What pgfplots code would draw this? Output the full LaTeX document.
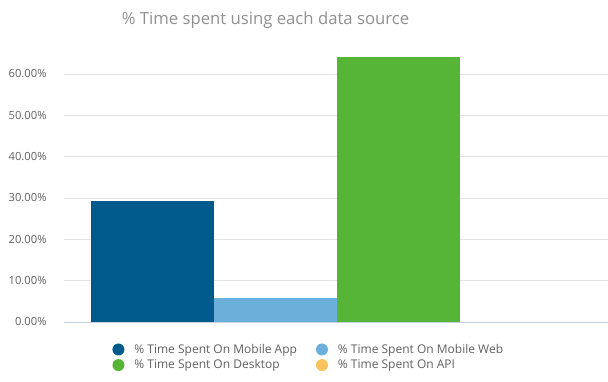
\documentclass[border=0pt]{standalone}
\usepackage{pgfplots}
\pgfplotsset{compat=1.18}
\usepackage{fontspec}
\setmainfont{Open Sans}
\definecolor{cMobApp}{HTML}{005A8C}
\definecolor{cMobWeb}{HTML}{6AB0DA}
\definecolor{cDesk}{HTML}{56B536}
\definecolor{cAPI}{HTML}{F8C35C}
\definecolor{gridc}{HTML}{E3E3E3}
\definecolor{basec}{HTML}{C5D2E6}
\definecolor{labc}{HTML}{606060}
\definecolor{titc}{HTML}{909090}
\begin{document}
\begin{tikzpicture}
\path[use as bounding box] (0,0) rectangle (608bp,382bp);
\node[font=\fontsize{16.7bp}{20bp}\selectfont, text=titc] at (265.5bp,362bp) {\% Time spent using each data source};
\begin{axis}[
  at={(64bp,60bp)}, anchor=south west,
  scale only axis, width=544bp, height=272.8bp,
  xmin=-0.72, xmax=3.70, ymin=0, ymax=66,
  ybar, bar width=1, bar shift=0,
  axis x line*=bottom, axis y line*=left,
  x axis line style={draw=basec, line width=0.8pt},
  y axis line style={draw=none},
  xtick=\empty,
  ytick={0,10,20,30,40,50,60},
  ymajorgrids, grid style={draw=gridc, line width=0.6pt},
  major tick length=0pt,
  yticklabel style={font=\fontsize{11.2bp}{13bp}\selectfont, text=labc, xshift=-14bp},
  /pgf/number format/assume math mode=true,
  yticklabel={\pgfmathprintnumber[fixed,fixed zerofill,precision=2]{\tick}\%},
  legend columns=2,
  legend style={at={(0.450,-0.066)}, anchor=north, draw=none, fill=none,
    font=\fontsize{12bp}{14bp}\selectfont, text=labc,
    /tikz/every even column/.append style={column sep=17bp},
    row sep=1bp},
  legend cell align=left,
]
\addplot[fill=cMobApp, draw=none, legend image code/.code={\path[draw=none,fill=none] (-6bp,0bp) rectangle (14bp,1bp);\fill[cMobApp] (0bp,0bp) circle (6bp);}] coordinates {(0,29.3)};
\addlegendentry{\% Time Spent On Mobile App}
\addplot[fill=cMobWeb, draw=none, legend image code/.code={\path[draw=none,fill=none] (-6bp,0bp) rectangle (14bp,1bp);\fill[cMobWeb] (0bp,0bp) circle (6bp);}] coordinates {(1,5.85)};
\addlegendentry{\% Time Spent On Mobile Web}
\addplot[fill=cDesk, draw=none, legend image code/.code={\path[draw=none,fill=none] (-6bp,0bp) rectangle (14bp,1bp);\fill[cDesk] (0bp,0bp) circle (6bp);}] coordinates {(2,64.2)};
\addlegendentry{\% Time Spent On Desktop}
\addplot[fill=cAPI, draw=none, legend image code/.code={\path[draw=none,fill=none] (-6bp,0bp) rectangle (14bp,1bp);\fill[cAPI] (0bp,0bp) circle (6bp);}] coordinates {(3,0)};
\addlegendentry{\% Time Spent On API}
\end{axis}
\end{tikzpicture}
\end{document}
